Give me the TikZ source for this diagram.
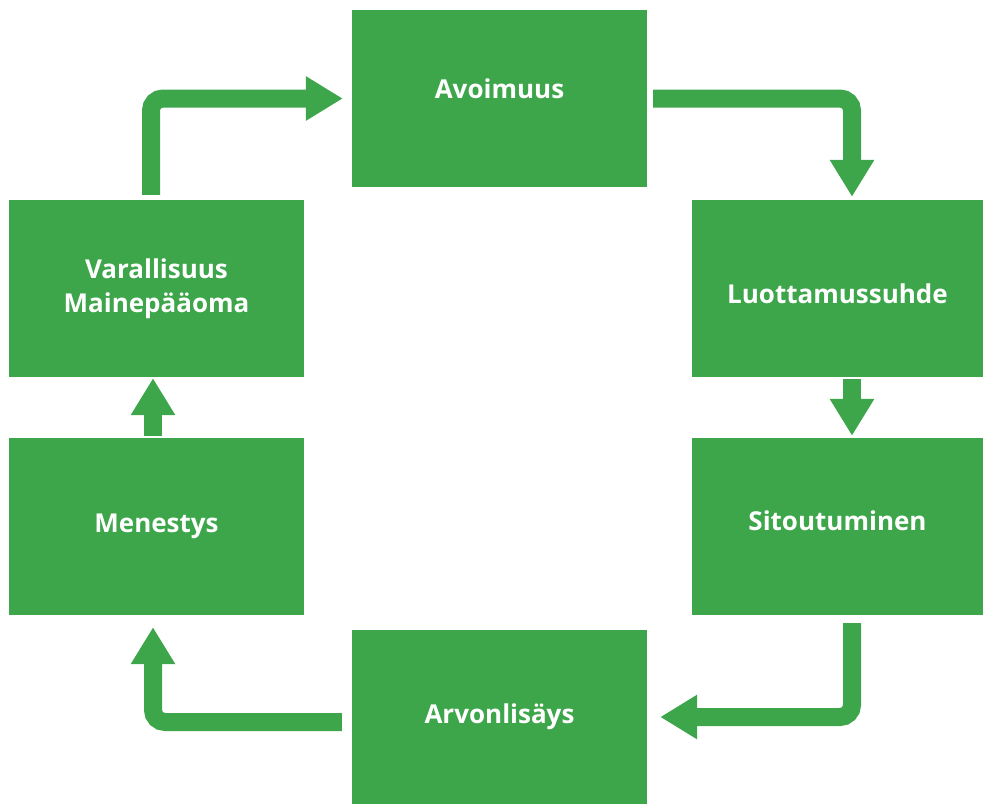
\documentclass[tikz,border=0pt]{standalone}
\usepackage{fontspec}
\setmainfont{Open Sans}
\usetikzlibrary{arrows.meta}
\definecolor{boxgreen}{RGB}{61,166,74}
\begin{document}
\begin{tikzpicture}[x=1pt,y=-1pt]
  \tikzset{green box/.style={fill=boxgreen,inner sep=0pt,minimum width=295pt,minimum height=#1,
      text=white,align=center,font=\fontsize{26}{34}\selectfont\bfseries},
    flow arrow/.style={draw=boxgreen,line width=18pt,rounded corners=12pt,
      -{Triangle[width=42pt,length=37pt]}}}
  \useasboundingbox (0,0) rectangle (983,804);

  \node [green box=177pt,text depth=20pt] (avo) at (499.5,98.5) {Avoimuus};
  \node [green box=177pt,minimum width=291pt,text height=30pt] (luo) at (837.5,288.5) {Luottamussuhde};
  \node [green box=177pt,minimum width=291pt,text depth=12pt] (sit) at (837.5,526.5) {Sitoutuminen};
  \node [green box=174pt] (arv) at (499.5,717) {Arvonlisäys};
  \node [green box=177pt] (men) at (156.5,526.5) {Menestys};
  \node [green box=177pt] (var) at (156.5,288.5) {Varallisuus\\Mainepääoma};

  \draw[flow arrow] ([xshift=-5.5pt,yshift=5pt]var.north) |- ([xshift=-9pt]avo.west);
  \draw[flow arrow] ([xshift=6pt]avo.east) -| ([xshift=14.5pt,yshift=3pt]luo.north);
  \draw[flow arrow] ([xshift=14.5pt,yshift=-2pt]luo.south) -- ([xshift=14.5pt,yshift=2pt]sit.north);
  \draw[flow arrow] ([xshift=14.5pt,yshift=-8pt]sit.south) |- ([xshift=13pt]arv.east);
  \draw[flow arrow] ([xshift=-10pt,yshift=-5pt]arv.west) -| ([xshift=-3.5pt,yshift=-12pt]men.south);
  \draw[flow arrow] ([xshift=-3.5pt,yshift=2pt]men.north) -- ([xshift=-3.5pt,yshift=-1pt]var.south);
\end{tikzpicture}
\end{document}
